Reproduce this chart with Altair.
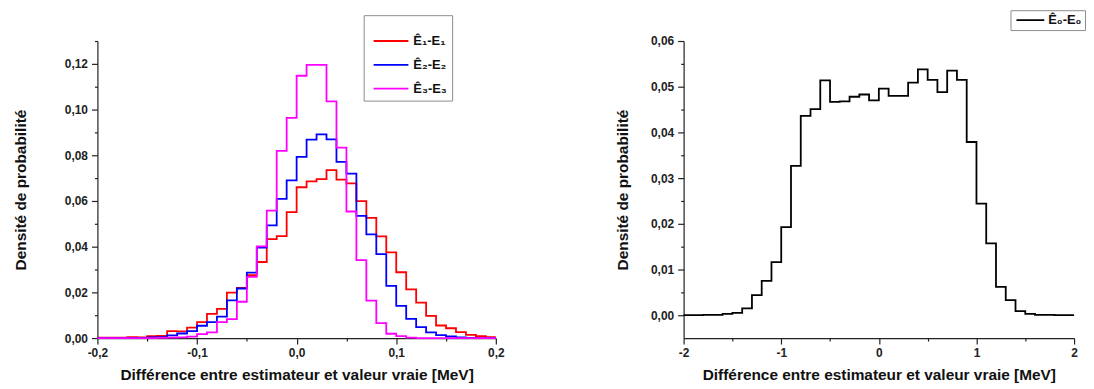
import altair as alt
import pandas as pd

# ---------------- data ----------------
left_edges = [-0.20, -0.19, -0.18, -0.17, -0.16, -0.15, -0.14, -0.13, -0.12, -0.11,
              -0.10, -0.09, -0.08, -0.07, -0.06, -0.05, -0.04, -0.03, -0.02, -0.01,
              0.00, 0.01, 0.02, 0.03, 0.04, 0.05, 0.06, 0.07, 0.08, 0.09,
              0.10, 0.11, 0.12, 0.13, 0.14, 0.15, 0.16, 0.17, 0.18, 0.19, 0.20]

red_vals = [0.0002, 0.0002, 0.0002, 0.0004, 0.0003, 0.0009, 0.0010, 0.0030, 0.0029, 0.0046,
            0.0070, 0.0106, 0.0128, 0.0199, 0.0220, 0.0275, 0.0333, 0.0433, 0.0446, 0.0551,
            0.0660, 0.0686, 0.0696, 0.0735, 0.0693, 0.0677, 0.0599, 0.0526, 0.0445, 0.0375,
            0.0288, 0.0213, 0.0155, 0.0097, 0.0055, 0.0043, 0.0026, 0.0014, 0.0009, 0.0004]

blue_vals = [0.0000, 0.0000, 0.0000, 0.0001, 0.0001, 0.0003, 0.0004, 0.0012, 0.0020, 0.0030,
             0.0054, 0.0070, 0.0094, 0.0165, 0.0217, 0.0286, 0.0396, 0.0493, 0.0609, 0.0690,
             0.0793, 0.0868, 0.0891, 0.0870, 0.0771, 0.0720, 0.0535, 0.0454, 0.0367, 0.0228,
             0.0141, 0.0084, 0.0048, 0.0025, 0.0013, 0.0007, 0.0003, 0.0001, 0.0000, 0.0000]

magenta_vals = [0.0000, 0.0000, 0.0000, 0.0000, 0.0000, 0.0000, 0.0001, 0.0002, 0.0003, 0.0006,
                0.0017, 0.0025, 0.0070, 0.0083, 0.0159, 0.0268, 0.0401, 0.0558, 0.0819, 0.0964,
                0.1148, 0.1196, 0.1196, 0.1036, 0.0833, 0.0554, 0.0341, 0.0164, 0.0065, 0.0019,
                0.0009, 0.0002, 0.0000, 0.0000, 0.0000, 0.0000, 0.0000, 0.0000, 0.0000, 0.0000]

right_edges = [-2.0, -1.9, -1.8, -1.7, -1.6, -1.5, -1.4, -1.3, -1.2, -1.1,
               -1.0, -0.9, -0.8, -0.7, -0.6, -0.5, -0.4, -0.3, -0.2, -0.1,
               0.0, 0.1, 0.2, 0.3, 0.4, 0.5, 0.6, 0.7, 0.8, 0.9,
               1.0, 1.1, 1.2, 1.3, 1.4, 1.5, 1.6, 1.7, 1.8, 1.9, 2.0]

black_vals = [0.0000, 0.0000, 0.0001, 0.0001, 0.0003, 0.0005, 0.0015, 0.0044, 0.0075, 0.0116,
              0.0193, 0.0327, 0.0436, 0.0451, 0.0514, 0.0467, 0.0468, 0.0478, 0.0483, 0.0470,
              0.0496, 0.0480, 0.0480, 0.0509, 0.0538, 0.0515, 0.0488, 0.0535, 0.0515, 0.0379,
              0.0244, 0.0157, 0.0062, 0.0033, 0.0009, 0.0003, 0.0001, 0.0001, 0.0000, 0.0000]

left_series = ["Ê₁-E₁", "Ê₂-E₂", "Ê₃-E₃"]
left_colors = ["#ff0000", "#0000ff", "#ff00ff"]
right_series = ["Ê₀-E₀"]
right_colors = ["#000000"]

x_title = "Différence entre estimateur et valeur vraie [MeV]"
y_title = "Densité de probabilité"


def step_rows(edges, vals, name, order):
    rows = []
    for i, v in enumerate(vals):
        rows.append({"x": edges[i], "y": v, "s": name, "o": order})
    rows.append({"x": edges[-1], "y": vals[-1], "s": name, "o": order})
    return rows


left_rows = []
for k, (nm, vv) in enumerate(zip(left_series, [red_vals, blue_vals, magenta_vals])):
    left_rows += step_rows(left_edges, vv, nm, k)
left_df = pd.DataFrame(left_rows)
right_df = pd.DataFrame(step_rows(right_edges, black_vals, right_series[0], 0))

FONT = "Liberation Sans"


def fmt_expr(minor_test, digits):
    return (f"({minor_test}) ? '' : (datum.value < 0 ? '-' : '') + "
            f"replace(format(abs(datum.value), '.{digits}f'), '.', ',')")


def axis(values, minor_test, digits, title, title_pad, label_pad=4):
    return alt.Axis(
        values=values,
        labelExpr=fmt_expr(minor_test, digits),
        tickSize={"condition": {"test": minor_test, "value": 3}, "value": 6},
        title=title,
        grid=False,
        labelOverlap=False,
        labelFlush=False,
        labelPadding=label_pad,
        titlePadding=title_pad,
    )


# ---------------- left chart ----------------
lx_vals = [-0.2, -0.15, -0.1, -0.05, 0.0, 0.05, 0.1, 0.15, 0.2]
ly_vals = [0.0, 0.01, 0.02, 0.03, 0.04, 0.05, 0.06, 0.07, 0.08, 0.09, 0.10, 0.11, 0.12, 0.13]
lx_minor = "abs(round(datum.value * 20)) % 2 == 1"
ly_minor = "abs(round(datum.value * 100)) % 2 == 1"

left = alt.Chart(left_df).mark_line(interpolate="step-after", strokeWidth=1.8).encode(
    x=alt.X("x:Q", scale=alt.Scale(domain=[-0.2, 0.2], nice=False, zero=False),
            axis=axis(lx_vals, lx_minor, 1, x_title, 9)),
    y=alt.Y("y:Q", scale=alt.Scale(domain=[0, 0.13], nice=False),
            axis=axis(ly_vals, ly_minor, 2, y_title, 36)),
    color=alt.Color("s:N", scale=alt.Scale(domain=left_series, range=left_colors),
                    legend=alt.Legend(orient="none", legendX=268, legendY=-26,
                                      title=" ", titleFontSize=9, titlePadding=5,
                                      symbolType="stroke", symbolSize=1225,
                                      symbolStrokeWidth=1.8, symbolOffset=4,
                                      clipHeight=14, rowPadding=10, labelOffset=4,
                                      padding=5, strokeColor="#8c8c8c", fillColor="white",
                                      labelFont=FONT, labelFontSize=13, labelFontWeight="bold",
                                      labelColor="#111")),
    order=alt.Order("o:Q"),
).properties(width=401, height=299)

# ---------------- right chart ----------------
rx_vals = [-2.0, -1.5, -1.0, -0.5, 0.0, 0.5, 1.0, 1.5, 2.0]
ry_vals = [0.0, 0.005, 0.01, 0.015, 0.02, 0.025, 0.03, 0.035, 0.04, 0.045, 0.05, 0.055, 0.06]
rx_minor = "abs(round(datum.value * 2)) % 2 == 1"
ry_minor = "abs(round(datum.value * 200)) % 2 == 1"

right = alt.Chart(right_df).mark_line(interpolate="step-after", strokeWidth=1.8).encode(
    x=alt.X("x:Q", scale=alt.Scale(domain=[-2, 2], nice=False, zero=False),
            axis=axis(rx_vals, rx_minor, 0, x_title, 9)),
    y=alt.Y("y:Q", scale=alt.Scale(domain=[-0.005, 0.06], nice=False, zero=False),
            axis=axis(ry_vals, ry_minor, 2, y_title, 20)),
    color=alt.Color("s:N", scale=alt.Scale(domain=right_series, range=right_colors),
                    legend=alt.Legend(orient="none", legendX=329, legendY=-31,
                                      title=None,
                                      symbolType="stroke", symbolSize=784,
                                      symbolStrokeWidth=1.8, symbolOffset=2,
                                      clipHeight=14, labelOffset=3,
                                      padding=3, strokeColor="#8c8c8c", fillColor="white",
                                      labelFont=FONT, labelFontSize=13, labelFontWeight="bold",
                                      labelColor="#111")),
).properties(width=393, height=299)

chart = alt.hconcat(left, right, spacing=111).resolve_scale(
    color="independent"
).configure(
    font=FONT,
    padding={"left": 5, "top": 0, "right": 0, "bottom": 0},
).configure_axis(
    domainColor="#222",
    domainWidth=1.2,
    tickColor="#222",
    tickWidth=1.2,
    labelColor="#222",
    labelFont=FONT,
    labelFontSize=12,
    labelFontWeight="bold",
    titleFont=FONT,
    titleFontSize=15.5,
    titleFontWeight="bold",
    titleColor="#111",
).configure_view(
    stroke="transparent"
)

chart.save("out.html", embed_options={"renderer": "svg", "actions": False})
